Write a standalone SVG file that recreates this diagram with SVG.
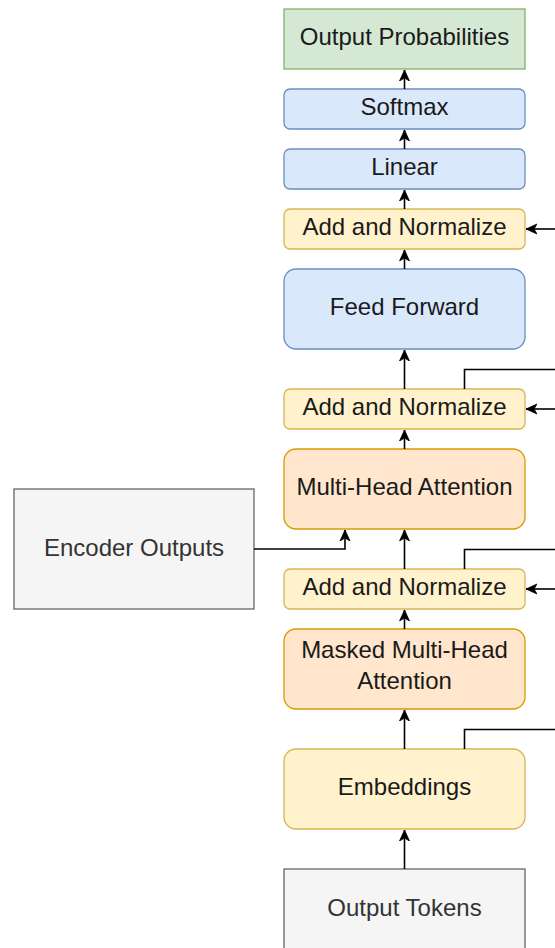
<svg xmlns="http://www.w3.org/2000/svg" width="555" height="948" viewBox="0 0 555 948">
<defs>
<style>
text{font-family:"Liberation Sans",Arial,sans-serif;font-size:24px;fill:#1a1a1a;text-anchor:middle}
.green{fill:#d5e8d4;stroke:#82b366;stroke-width:1.3}
.blue{fill:#dae8fc;stroke:#6c8ebf;stroke-width:1.3}
.yellow{fill:#fff2cc;stroke:#d6b656;stroke-width:1.3}
.orange{fill:#ffe6cc;stroke:#d79b00;stroke-width:1.3}
.gray{fill:#f5f5f5;stroke:#666666;stroke-width:1.3}
text.g{fill:#333333}
.c{fill:none;stroke:#000;stroke-width:1.6}
.a{marker-end:url(#arr)}
</style>
<marker id="arr" viewBox="0 0 12 12" refX="11" refY="6" markerWidth="12" markerHeight="12" markerUnits="userSpaceOnUse" orient="auto">
<path d="M0,1 L11,6 L0,11 L3,6 Z" fill="#000" stroke="#000" stroke-width="0.8"/>
</marker>
</defs>
<g id="output-probabilities"><rect class="green" x="284" y="9" width="241" height="60"/><text x="404.5" y="45">Output Probabilities</text></g>
<g id="softmax"><rect class="blue" x="284" y="89" width="241" height="40" rx="6"/><text x="404.5" y="115">Softmax</text></g>
<g id="linear"><rect class="blue" x="284" y="149" width="241" height="40" rx="6"/><text x="404.5" y="175">Linear</text></g>
<g id="add-norm-3"><rect class="yellow" x="284" y="209" width="241" height="40" rx="6"/><text x="404.5" y="235">Add and Normalize</text></g>
<g id="feed-forward"><rect class="blue" x="284" y="269" width="241" height="80" rx="12"/><text x="404.5" y="315">Feed Forward</text></g>
<g id="add-norm-2"><rect class="yellow" x="284" y="389" width="241" height="40" rx="6"/><text x="404.5" y="415">Add and Normalize</text></g>
<g id="multi-head-attention"><rect class="orange" x="284" y="449" width="241" height="80" rx="12"/><text x="404.5" y="495">Multi-Head Attention</text></g>
<g id="encoder-outputs"><rect class="gray" x="14" y="489" width="240" height="120"/><text class="g" x="134" y="556">Encoder Outputs</text></g>
<g id="add-norm-1"><rect class="yellow" x="284" y="569" width="241" height="40" rx="6"/><text x="404.5" y="595">Add and Normalize</text></g>
<g id="masked-multi-head-attention"><rect class="orange" x="284" y="629" width="241" height="80" rx="12"/><text x="404.5" y="658">Masked Multi-Head</text><text x="404.5" y="689">Attention</text></g>
<g id="embeddings"><rect class="yellow" x="284" y="749" width="241" height="80" rx="12"/><text x="404.5" y="795">Embeddings</text></g>
<g id="output-tokens"><rect class="gray" x="284" y="869" width="241" height="82"/><text class="g" x="404.5" y="916">Output Tokens</text></g>
<g id="connectors">
<path class="c a" d="M404.5,869 V830"/>
<path class="c a" d="M404.5,749 V710"/>
<path class="c a" d="M404.5,629 V610"/>
<path class="c a" d="M404.5,569 V530"/>
<path class="c a" d="M404.5,449 V430"/>
<path class="c a" d="M404.5,389 V350"/>
<path class="c a" d="M404.5,269 V250"/>
<path class="c a" d="M404.5,209 V190"/>
<path class="c a" d="M404.5,149 V130"/>
<path class="c a" d="M404.5,89 V70"/>
<path class="c a" d="M254,549 H345 V530"/>
<path class="c" d="M464.5,749 V729.5 H556"/>
<path class="c" d="M464.5,569 V549.5 H556"/>
<path class="c" d="M464.5,389 V369.5 H556"/>
<path class="c a" d="M556,589 H526"/>
<path class="c a" d="M556,409 H526"/>
<path class="c a" d="M556,229 H526"/>
</g>
</svg>
